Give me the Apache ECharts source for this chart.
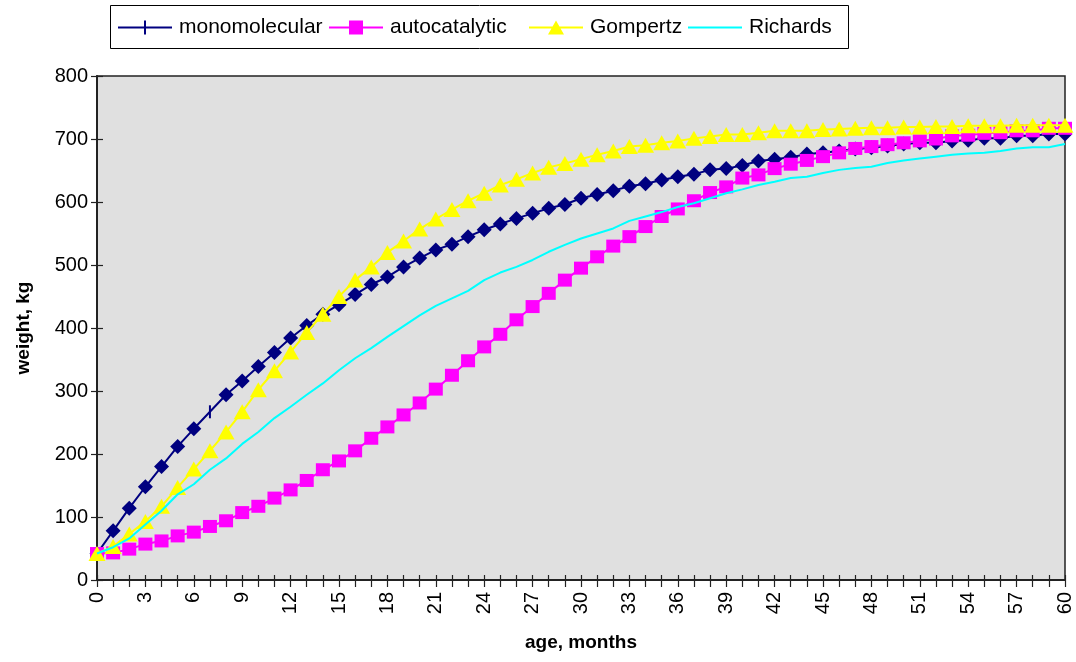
<!DOCTYPE html>
<html>
<head>
<meta charset="utf-8">
<title>Growth curves</title>
<script src="https://cdn.jsdelivr.net/npm/echarts@6/dist/echarts.min.js"></script>
<style>
  html, body { margin: 0; padding: 0; background: #ffffff; }
  #chart { width: 1076px; height: 662px; }
</style>
</head>
<body>
<div id="chart"></div>
<script>
// Age in months (category axis) 0..60
const months = Array.from({ length: 61 }, (_, i) => String(i));

// Body weight (kg) for each growth model, one value per month
const monomolecular = [42, 78, 114, 148, 180, 212, 240, 267, 294, 316, 339, 361, 384, 404, 422, 437, 453, 469, 481, 497, 511, 524, 533, 545, 556, 565, 574, 582, 590, 596, 606, 612, 618, 625, 629, 635, 640, 644, 651, 653, 658, 665, 668, 671, 676, 678, 681, 684, 686, 689, 692, 694, 694, 697, 698, 701, 701, 705, 705, 708, 708];
const autocatalytic = [42, 43, 49, 57, 62, 70, 76, 85, 94, 107, 117, 130, 143, 158, 175, 189, 205, 225, 243, 262, 281, 303, 325, 348, 370, 390, 413, 434, 455, 476, 495, 513, 530, 545, 561, 577, 589, 602, 615, 624, 638, 643, 653, 660, 666, 672, 678, 685, 688, 691, 694, 697, 700, 705, 706, 709, 710, 713, 713, 717, 717];
const gompertz = [42, 53, 73, 93, 117, 147, 176, 205, 235, 267, 302, 332, 362, 393, 422, 450, 476, 497, 520, 538, 557, 573, 588, 602, 614, 627, 636, 646, 655, 661, 668, 675, 681, 688, 690, 694, 697, 701, 704, 707, 707, 710, 713, 713, 713, 715, 716, 717, 718, 718, 719, 719, 720, 720, 721, 721, 721, 722, 722, 722, 722];
const richards = [42, 52, 66, 88, 110, 136, 152, 175, 193, 216, 235, 257, 275, 294, 312, 333, 352, 368, 386, 403, 420, 435, 447, 459, 476, 488, 497, 508, 521, 532, 542, 550, 558, 570, 577, 584, 592, 598, 606, 614, 620, 627, 632, 638, 640, 646, 651, 654, 656, 662, 666, 669, 672, 675, 677, 678, 681, 685, 687, 687, 692];

// Series names as shown in the legend
const seriesNames = ['monomolecular', 'autocatalytic', 'Gompertz', 'Richards'];

// Y axis range
const yMin = 0, yMax = 800, yStep = 100;

const FONT = '"Liberation Sans", Arial, Helvetica, sans-serif';
const NAVY = '#000080', MAGENTA = '#FF00FF', YELLOW = '#FFFF00', CYAN = '#00FFFF';

// Legend keys: a line with the series marker in its middle (54 x 14 box each)
const KEY_LINE = 'M0,6h54v2h-54z M0,0h0.01v0.01h-0.01z M53.99,13.99h0.01v0.01h-0.01z';
const ICON_MONO = 'path://' + KEY_LINE + ' M26,0h2v14h-2z';
const ICON_AUTO = 'path://' + KEY_LINE + ' M20,0h14v14h-14z';
const ICON_GOMP = 'path://' + KEY_LINE + ' M27,0L35,14H19z';
const ICON_RICH = 'path://' + KEY_LINE;

// Month 7 of the monomolecular curve carries a short vertical tick instead of a diamond
const monoData = monomolecular.map((v, i) =>
  i === 7 ? { value: v, symbol: 'rect', symbolSize: [2, 13] } : v
);

const chart = echarts.init(document.getElementById('chart'), null, { renderer: 'canvas' });

function legendAt(left, name, icon) {
  return {
    show: true,
    left: left,
    top: 17,
    padding: 0,
    itemWidth: 54,
    itemHeight: 14,
    itemGap: 0,
    data: [{ name: name, icon: icon }],
    selectedMode: false,
    textStyle: { fontFamily: FONT, fontSize: 21, color: '#000', padding: [0, 0, 0, 2], lineHeight: 20 }
  };
}

const option = {
  backgroundColor: '#ffffff',
  animation: false,
  graphic: [{
    type: 'rect',
    shape: { x: 110.5, y: 5.5, width: 738, height: 43 },
    style: { fill: '#ffffff', stroke: '#000000', lineWidth: 1 },
    z: -1
  }],
  legend: [
    legendAt(118, seriesNames[0], ICON_MONO),
    legendAt(329, seriesNames[1], ICON_AUTO),
    legendAt(529, seriesNames[2], ICON_GOMP),
    legendAt(688, seriesNames[3], ICON_RICH)
  ],
  grid: {
    left: 97, right: 11, top: 76, bottom: 82,
    show: true,
    backgroundColor: '#E0E0E0',
    borderColor: '#222222',
    borderWidth: 1.5
  },
  xAxis: [{
    type: 'category',
    data: months,
    boundaryGap: false,
    position: 'bottom',
    name: 'age, months',
    nameLocation: 'middle',
    nameGap: 53,
    nameTextStyle: { fontFamily: FONT, fontSize: 19, fontWeight: 'bold', color: '#000' },
    axisLine: { show: true, lineStyle: { color: '#222', width: 2 } },
    axisTick: { show: true, interval: 0, length: 7, lineStyle: { color: '#222', width: 1.2 } },
    axisLabel: { interval: 2, rotate: 90, margin: 12, fontFamily: FONT, fontSize: 20, color: '#000' },
    splitLine: { show: false }
  }, {
    type: 'category',
    data: months,
    boundaryGap: false,
    position: 'bottom',
    axisLine: { show: false },
    axisTick: { show: true, inside: true, interval: 0, length: 5, lineStyle: { color: '#222', width: 1.2 } },
    axisLabel: { show: false },
    splitLine: { show: false }
  }],
  yAxis: [{
    type: 'value',
    min: yMin, max: yMax, interval: yStep,
    position: 'left',
    name: 'weight, kg',
    nameLocation: 'middle',
    nameGap: 64,
    nameTextStyle: { fontFamily: FONT, fontSize: 19, fontWeight: 'bold', color: '#000' },
    axisLine: { show: true, lineStyle: { color: '#222', width: 2 } },
    axisTick: { show: true, length: 6, lineStyle: { color: '#222', width: 1.2 } },
    axisLabel: { margin: 9, fontFamily: FONT, fontSize: 20, color: '#000' },
    splitLine: { show: false }
  }, {
    type: 'value',
    min: yMin, max: yMax, interval: yStep,
    position: 'left',
    axisLine: { show: false },
    axisTick: { show: true, inside: true, length: 6, lineStyle: { color: '#222', width: 1.2 } },
    axisLabel: { show: false },
    splitLine: { show: false }
  }],
  series: [{
    name: seriesNames[0],
    type: 'line',
    data: monoData,
    symbol: 'diamond',
    symbolSize: [15, 15],
    showAllSymbol: true,
    itemStyle: { color: NAVY },
    lineStyle: { color: NAVY, width: 2 },
    z: 2
  }, {
    name: seriesNames[1],
    type: 'line',
    data: autocatalytic,
    symbol: 'rect',
    symbolSize: [14, 13],
    showAllSymbol: true,
    itemStyle: { color: MAGENTA },
    lineStyle: { color: MAGENTA, width: 2 },
    z: 3
  }, {
    name: seriesNames[2],
    type: 'line',
    data: gompertz,
    symbol: 'triangle',
    symbolSize: [17, 15],
    showAllSymbol: true,
    itemStyle: { color: YELLOW },
    lineStyle: { color: YELLOW, width: 2 },
    z: 4
  }, {
    name: seriesNames[3],
    type: 'line',
    data: richards,
    symbol: 'none',
    itemStyle: { color: CYAN },
    lineStyle: { color: CYAN, width: 2 },
    z: 5
  }]
};

chart.setOption(option);
</script>
</body>
</html>
